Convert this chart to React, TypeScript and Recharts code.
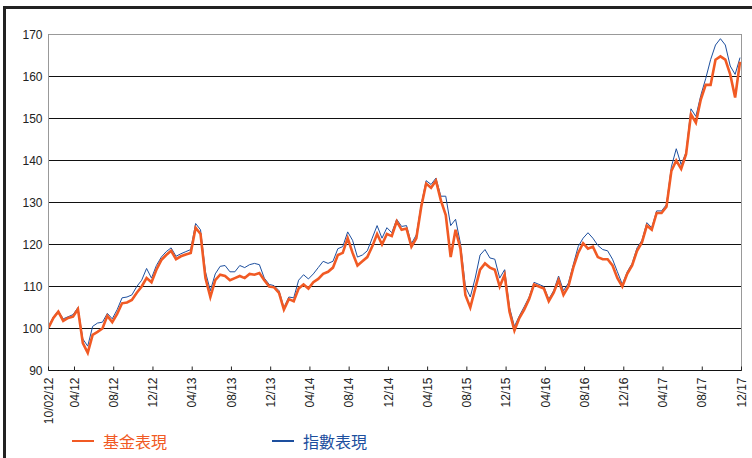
import { LineChart, Line, XAxis, YAxis, CartesianGrid, ReferenceLine } from 'recharts'

// half-month samples, Feb 2012 .. Dec 2017
const fundValues = [
  100.2, 102.5, 104, 101.8, 102.5, 102.8, 104.6, 96.5, 94.2, 98.5,
  99.2, 100, 103, 101.5, 103.5, 106, 106.2, 106.8, 108.5, 110,
  112, 111, 114, 116.3, 117.5, 118.5, 116.5, 117.2, 117.6, 118,
  124, 122.5, 112, 107.5, 111.5, 112.8, 112.5, 111.5, 112, 112.5,
  112, 113, 112.8, 113.2, 111.5, 110, 109.8, 108.5, 104.5, 107,
  106.5, 109.5, 110.5, 109.5, 111, 111.8, 113, 113.5, 114.5, 117.5,
  118, 121.5, 118, 115, 116, 117, 119.5, 122.5, 120, 122.5,
  122, 125.5, 123.5, 123.8, 119.5, 121.5, 129, 134.5, 133.5, 135.2,
  130.5, 127, 117, 123.5, 119, 108, 105, 109.5, 114, 115.5,
  114.5, 114, 110, 112.8, 104, 99.5, 102.5, 104.5, 107, 110.5,
  110, 109.5, 106.5, 108.5, 111.5, 108, 110, 114.5, 118, 120.3,
  119, 119.5, 117, 116.5, 116.5, 115, 112, 110, 113, 115,
  118.5, 120.5, 124.5, 123.5, 127.5, 127.5, 129, 137.5, 140, 138,
  141.5, 151, 149, 154.5, 158, 158, 164, 164.8, 164, 160.5,
  155, 163.5,
]

const indexValues = [
  100.5, 102.8, 104.2, 102.3, 102.8, 103.3, 105, 97.5, 95.8, 100.5,
  101.3, 101.5, 103.6, 102.3, 104.5, 107.3, 107.5, 108, 110, 111.5,
  114.3, 112, 115, 117, 118.3, 119.2, 117.2, 117.8, 118.3, 118.8,
  125, 123.5, 113.5, 109, 113, 114.8, 115, 113.5, 113.5, 115,
  114.5, 115.2, 115.5, 115.2, 112, 110.5, 110.2, 109, 105, 107.5,
  107.3, 111.5, 112.8, 111.8, 113, 114.5, 116, 115.5, 116, 119,
  119.5, 123, 121, 117, 117.5, 118.5, 121.5, 124.5, 121.5, 124,
  122.8, 126, 124.3, 124.5, 120.2, 122.3, 129.5, 135.2, 134.3, 135.8,
  131.5, 131.5, 124.5, 126, 120.2, 110, 107.5, 112, 117.5, 118.8,
  116.8, 116.5, 112, 114, 105, 100.5, 103, 105.2, 107.5, 111,
  110.5, 110, 107, 109, 112.5, 109, 110.8, 115.2, 119.5, 121.5,
  122.8, 121.5, 119.8, 118.8, 118.5, 116.5, 113.5, 110.5, 113.5, 115.5,
  119.2, 121, 125.2, 124, 128, 128, 129.5, 138.5, 142.8, 139,
  142, 152.3, 150.5, 155.5, 159.5, 164, 167.5, 169, 167.5, 162.5,
  160.5, 164.5,
]

const tickLabels = [
  '10/02/12', '04/12', '08/12', '12/12', '04/13', '08/13', '12/13', '04/14', '08/14', '12/14',
  '04/15', '08/15', '12/15', '04/16', '08/16', '12/16', '04/17', '08/17', '12/17',
]
const tickPositions = [
  0, 5.3, 13.3, 21.3, 29.3, 37.3, 45.3, 53.3, 61.3, 69.3,
  77.3, 85.3, 93.3, 101.3, 109.3, 117.3, 125.3, 133.3, 141.3,
]
const yTicks = [90, 100, 110, 120, 130, 140, 150, 160, 170]

const data = fundValues.map((v, i) => ({ t: i, fund: v, index: indexValues[i] }))

const FONT = '"Liberation Sans", Arial, sans-serif'
const ORANGE = '#f15a24'
const BLUE = '#1d4f9e'

function DateTick(props: any) {
  const { x, y, payload } = props
  const i = tickPositions.indexOf(payload.value)
  return (
    <g transform={`translate(${x},${y})`}>
      <line x1={0} y1={0} x2={0} y2={-4} stroke="#222" />
      <text
        transform="rotate(-90)"
        x={-7}
        y={0}
        dy="0.35em"
        textAnchor="end"
        fontSize={12}
        fill="#222"
        fontFamily={FONT}
      >
        {tickLabels[i]}
      </text>
    </g>
  )
}

function LegendItem({ color, label, left }: { color: string; label: string; left: number }) {
  return (
    <div style={{ position: 'absolute', left, top: 431, display: 'flex', alignItems: 'center' }}>
      <div style={{ width: 22, height: 2, background: color, marginRight: 9 }} />
      <span style={{ color, fontSize: 16, fontFamily: '"Noto Sans CJK TC", sans-serif', lineHeight: '20px' }}>
        {label}
      </span>
    </div>
  )
}

export default function App() {
  return (
    <div style={{ position: 'absolute', left: 0, top: 0, width: 752, height: 458, background: '#fff', overflow: 'hidden' }}>
      <div
        style={{
          position: 'absolute',
          left: 3,
          top: 6,
          width: 800,
          height: 500,
          borderLeft: '3px solid #222',
          borderTop: '3px solid #222',
        }}
      />
      <div style={{ position: 'absolute', left: 0, top: 0 }}>
        <LineChart
          width={752}
          height={458}
          data={data}
          margin={{ top: 34.5, right: 10.5, left: 0.5, bottom: 57.5 }}
        >
          <CartesianGrid vertical={false} stroke="#111" />
          <ReferenceLine y={170} stroke="#999" />
          <ReferenceLine x={141.3} stroke="#999" />
          <XAxis
            dataKey="t"
            type="number"
            domain={[0, 141.3]}
            ticks={tickPositions}
            interval={0}
            height={30}
            tick={<DateTick />}
            tickLine={false}
            tickSize={0}
            tickMargin={0}
            axisLine={{ stroke: '#111' }}
            allowDataOverflow
          />
          <YAxis
            domain={[90, 170]}
            ticks={yTicks}
            interval={0}
            width={48}
            tickLine={false}
            tickSize={0}
            tickMargin={6}
            axisLine={{ stroke: '#999' }}
            tick={{ fontSize: 12, fill: '#222', fontFamily: FONT }}
          />
          <Line
            type="linear"
            dataKey="index"
            stroke={BLUE}
            strokeWidth={1}
            dot={false}
            isAnimationActive={false}
          />
          <Line
            type="linear"
            dataKey="fund"
            stroke={ORANGE}
            strokeWidth={2.6}
            dot={false}
            isAnimationActive={false}
          />
        </LineChart>
      </div>
      <LegendItem color={ORANGE} label="基金表現" left={72} />
      <LegendItem color={BLUE} label="指數表現" left={272} />
    </div>
  )
}
